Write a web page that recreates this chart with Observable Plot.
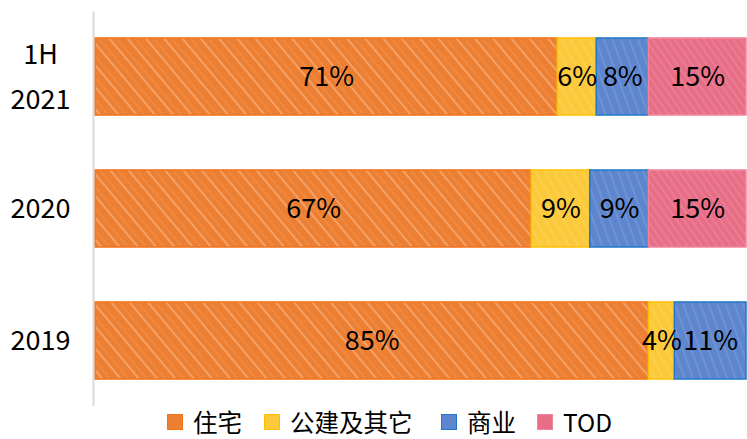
<!DOCTYPE html>
<html><head><meta charset="utf-8">
<script src="https://cdn.jsdelivr.net/npm/d3@7"></script>
<script src="https://cdn.jsdelivr.net/npm/@observablehq/plot@0.6"></script>
<style>
body{margin:0;background:#fff;font-family:"Noto Sans CJK SC","Noto Sans",sans-serif;overflow:hidden;}
#legend{position:relative;height:33px;width:747px;}
.item{position:absolute;top:-1px;height:34px;display:flex;align-items:center;font-size:24.5px;color:#000;line-height:34px;white-space:nowrap;}
.sw{width:14px;height:14px;margin-right:10px;border:1px solid;flex:none;}
</style></head>
<body>
<svg width="0" height="0" style="position:absolute">
<defs>
<pattern id="p0" width="14" height="14" patternUnits="userSpaceOnUse" patternTransform="rotate(-40)">
<rect width="14" height="14" fill="#ED7F33"/><line x1="3" y1="0" x2="3" y2="14" stroke="#fff" stroke-opacity="0.35" stroke-width="1.5"/><line x1="9" y1="0" x2="9" y2="14" stroke="#fff" stroke-opacity="0.15" stroke-width="1"/></pattern>
<pattern id="p1" width="8" height="8" patternUnits="userSpaceOnUse" patternTransform="rotate(-30)">
<rect width="8" height="8" fill="#FCC93A"/><line x1="2" y1="0" x2="2" y2="8" stroke="#fff" stroke-opacity="0.2" stroke-width="1"/></pattern>
<pattern id="p2" width="8" height="8" patternUnits="userSpaceOnUse" patternTransform="rotate(-20)">
<rect width="8" height="8" fill="#5E86CE"/><line x1="2" y1="0" x2="2" y2="8" stroke="#fff" stroke-opacity="0.2" stroke-width="1"/></pattern>
<pattern id="p3" width="6" height="6" patternUnits="userSpaceOnUse" patternTransform="rotate(-35)">
<rect width="6" height="6" fill="#E86D87"/><line x1="2" y1="0" x2="2" y2="6" stroke="#fff" stroke-opacity="0.2" stroke-width="1"/></pattern>
</defs></svg>
<div id="chart"></div>
<div id="legend"></div>
<script>
const categories = ["1H\n2021", "2020", "2019"];
const series = ["住宅", "公建及其它", "商业", "TOD"];
const values = {
  "住宅": [71, 67, 85],
  "公建及其它": [6, 9, 4],
  "商业": [8, 9, 11],
  "TOD": [15, 15, 0]
};
const fills = ["url(#p0)", "url(#p1)", "url(#p2)", "url(#p3)"];
const strokes = ["#F27218", "#FFC000", "#1E78C8", "#F2849A"];
const swatchFill = ["#ED7F33", "#FCC93A", "#5E86CE", "#E86D87"];

const data = [];
series.forEach((s, si) => categories.forEach((c, ci) => {
  const v = values[s][ci];
  if (v > 0) data.push({cat: c, series: s, si, value: v, fill: fills[si], stroke: strokes[si]});
}));

const chart = Plot.plot({
  width: 747, height: 406,
  marginLeft: 95, marginRight: 1, marginTop: 11.5, marginBottom: 0,
  x: {domain: [0, 100], axis: null},
  y: {domain: categories, paddingInner: 0.42, paddingOuter: 0.2, label: null},
  color: {type: "identity"},
  style: {fontFamily: "'Noto Sans CJK SC','Noto Sans',sans-serif", fontSize: "27px", color: "#000"},
  marks: [
    Plot.barX(data, Plot.stackX({x: "value", y: "cat", order: "si", fill: "fill", stroke: "stroke", strokeWidth: 1.5})),
    Plot.text(data, Plot.stackX({x: "value", y: "cat", order: "si", text: d => d.value + "%", fill: "#000", fontSize: 27})),
    Plot.ruleX([0], {stroke: "#d9d9d9", strokeWidth: 2, dx: -2}),
    Plot.axisY({tickSize: 0, textAnchor: "middle", dx: -46, dy: -5, fontSize: 27, lineHeight: 1.65, fill: "#000", label: null})
  ]
});
document.getElementById("chart").appendChild(chart);

const lx = [167, 264, 441, 537];
const leg = document.getElementById("legend");
series.forEach((s, i) => {
  const it = document.createElement("div");
  it.className = "item";
  it.style.left = lx[i] + "px";
  const sw = document.createElement("span");
  sw.className = "sw";
  sw.style.background = swatchFill[i];
  sw.style.borderColor = strokes[i];
  it.appendChild(sw);
  const t = document.createElement("span");
  t.textContent = s;
  it.appendChild(t);
  leg.appendChild(it);
});
</script>
</body></html>
